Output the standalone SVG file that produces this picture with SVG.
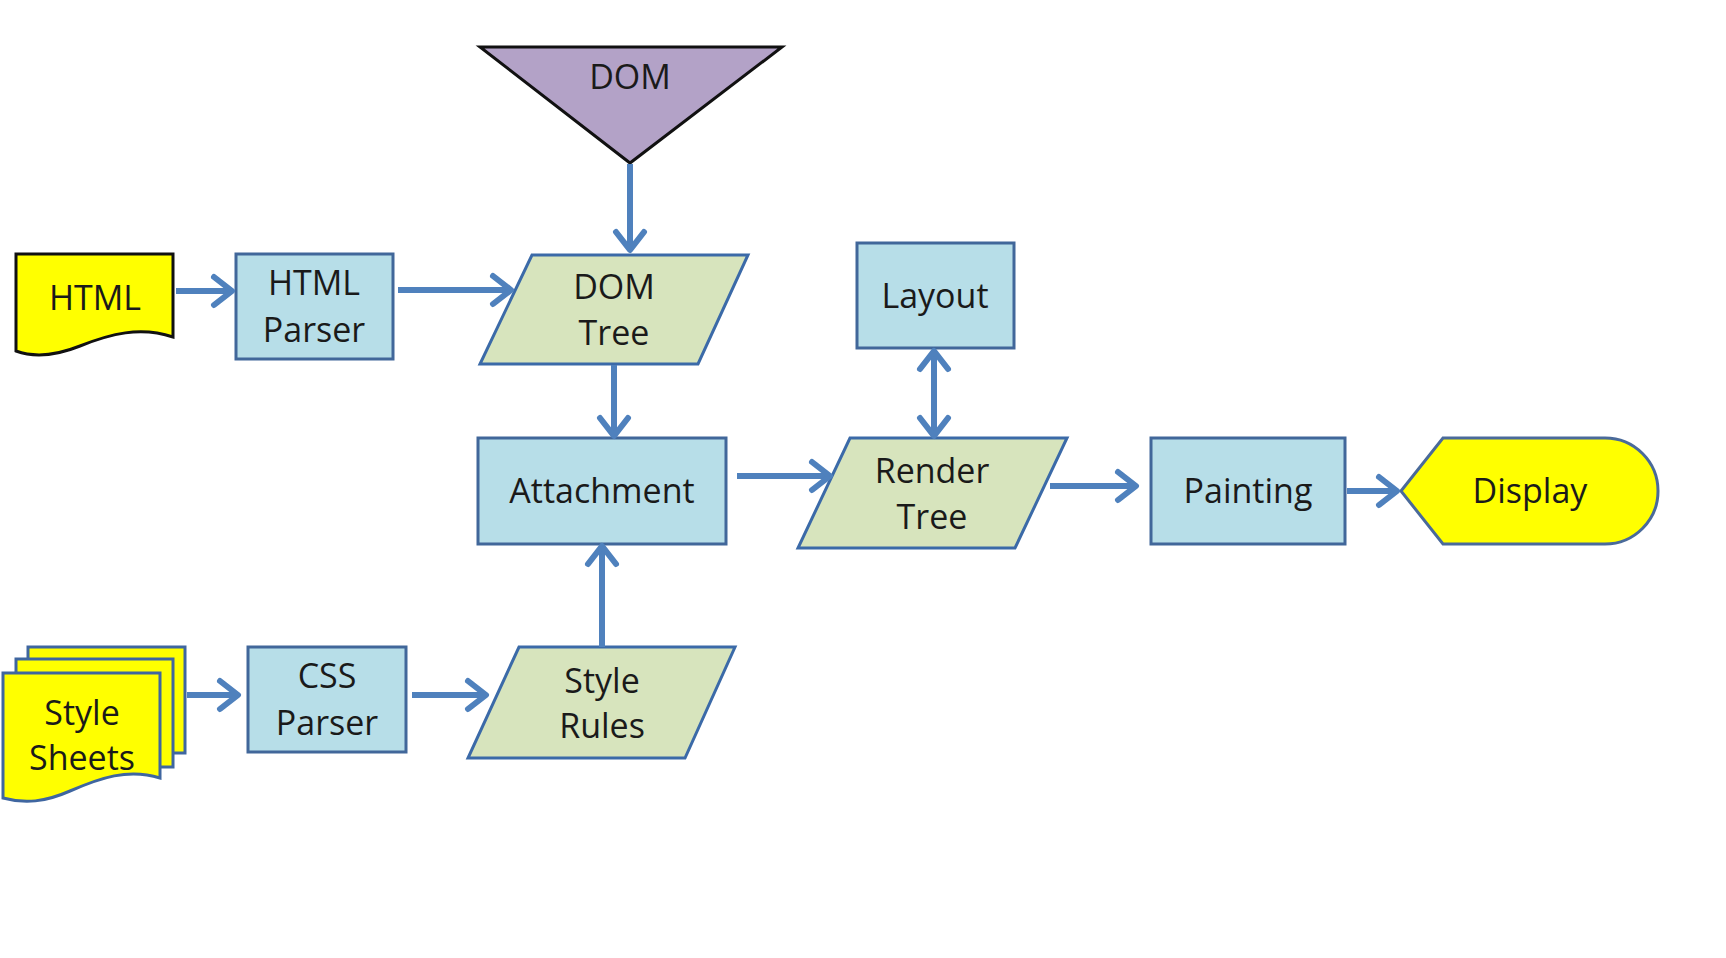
<svg xmlns="http://www.w3.org/2000/svg" width="1726" height="958" viewBox="0 0 1726 958">
<style>
text{font-family:"Open Sans","Noto Sans","Liberation Sans",sans-serif;font-size:34px;fill:#1a1a1a;text-anchor:middle}
.box{fill:#B7DEE8;stroke:#41679A;stroke-width:3}
.para{fill:#D7E4BD;stroke:#3B6AA8;stroke-width:3;stroke-linejoin:miter}
.doc{fill:#FFFF00;stroke:#3F66A0;stroke-width:3}
.con line{stroke:#4F81BD;stroke-width:6;fill:none}
</style>
<defs>
<marker id="ah" viewBox="-24 -18 30 36" refX="0" refY="0" markerWidth="30" markerHeight="36" markerUnits="userSpaceOnUse" orient="auto-start-reverse">
<path d="M-19,-14 L-1,0 L-19,14" fill="none" stroke="#4F81BD" stroke-width="6" stroke-linejoin="round" stroke-linecap="round"/>
</marker>
</defs>
<rect width="1726" height="958" fill="#fff"/>

<g id="dom">
<polygon points="480,47 782,47 630,163" fill="#B3A2C7" stroke="#111" stroke-width="3"/>
<text x="630" y="89">DOM</text>
</g>

<g id="html">
<path d="M16,254 H173 V337 C140,326 110,334 80,346 C55,356 35,358 16,351 Z" fill="#FFFF00" stroke="#111" stroke-width="3"/>
<text x="95" y="310">HTML</text>
</g>

<g id="html-parser">
<rect class="box" x="236" y="254" width="157" height="105"/>
<text x="314" y="295">HTML</text>
<text x="314" y="342">Parser</text>
</g>

<g id="dom-tree">
<polygon class="para" points="532,255 748,255 698,364 480,364"/>
<text x="614" y="299">DOM</text>
<text x="614" y="345">Tree</text>
</g>

<g id="layout">
<rect class="box" x="857" y="243" width="157" height="105"/>
<text x="935" y="308">Layout</text>
</g>

<g id="attachment">
<rect class="box" x="478" y="438" width="248" height="106"/>
<text x="602" y="503">Attachment</text>
</g>

<g id="render-tree">
<polygon class="para" points="850,438 1067,438 1015,548 798,548"/>
<text x="932" y="483">Render</text>
<text x="932" y="529">Tree</text>
</g>

<g id="painting">
<rect class="box" x="1151" y="438" width="194" height="106"/>
<text x="1248" y="503">Painting</text>
</g>

<g id="display">
<path d="M1401,491 L1443,438 H1605 A53,53 0 0 1 1605,544 H1443 Z" fill="#FFFF00" stroke="#4A6A9A" stroke-width="3"/>
<text x="1530" y="503">Display</text>
</g>

<g id="style-sheets">
<rect class="doc" x="28" y="647" width="157" height="106"/>
<rect class="doc" x="16" y="659" width="157" height="108"/>
<path class="doc" d="M3,673 H160 V778 C128,768 100,778 70,791 C45,802 25,804 3,798 Z"/>
<text x="82" y="725">Style</text>
<text x="82" y="770">Sheets</text>
</g>

<g id="css-parser">
<rect class="box" x="248" y="647" width="158" height="105"/>
<text x="327" y="688">CSS</text>
<text x="327" y="735">Parser</text>
</g>

<g id="style-rules">
<polygon class="para" points="519,647 735,647 685,758 468,758"/>
<text x="602" y="693">Style</text>
<text x="602" y="738">Rules</text>
</g>

<g id="connectors" class="con">
<line x1="176" y1="291" x2="233" y2="291" marker-end="url(#ah)"/>
<line x1="398" y1="290" x2="512" y2="290" marker-end="url(#ah)"/>
<line x1="630" y1="164" x2="630" y2="251" marker-end="url(#ah)"/>
<line x1="614" y1="365" x2="614" y2="437" marker-end="url(#ah)"/>
<line x1="737" y1="476" x2="831" y2="476" marker-end="url(#ah)"/>
<line x1="934" y1="350" x2="934" y2="437" marker-start="url(#ah)" marker-end="url(#ah)"/>
<line x1="1050" y1="486" x2="1137" y2="486" marker-end="url(#ah)"/>
<line x1="1347" y1="491" x2="1398" y2="491" marker-end="url(#ah)"/>
<line x1="187" y1="695" x2="239" y2="695" marker-end="url(#ah)"/>
<line x1="412" y1="695" x2="487" y2="695" marker-end="url(#ah)"/>
<line x1="602" y1="647" x2="602" y2="545" marker-end="url(#ah)"/>
</g>
</svg>
